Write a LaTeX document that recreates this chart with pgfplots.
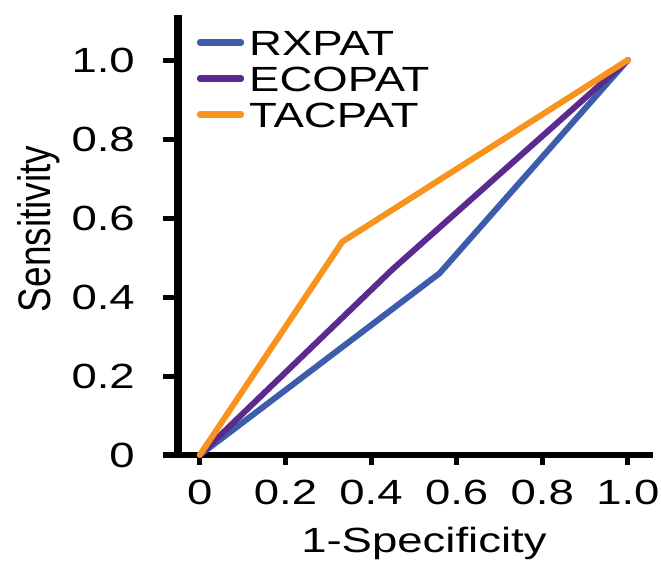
\documentclass[border=0pt]{standalone}
\usepackage{pgfplots}
\pgfplotsset{compat=1.18}
\usepackage{fontspec}
\setmainfont[FakeStretch=1.3]{Liberation Sans}
\newfontfamily\rotfont{Liberation Sans}
\definecolor{cRX}{RGB}{62,92,172}
\definecolor{cECO}{RGB}{92,42,142}
\definecolor{cTAC}{RGB}{248,148,30}
\newcommand{\bigf}{\fontsize{35}{38}\selectfont}
\begin{document}
\begin{tikzpicture}
\path[use as bounding box] (0,0) rectangle (661pt,560pt);
\begin{axis}[
  at={(178pt,105pt)}, anchor=south west,
  scale only axis, width=474.7pt, height=440pt,
  xmin=-0.051, xmax=1.058, ymin=0, ymax=1.114,
  axis x line*=bottom, axis y line*=left,
  x axis line style={line width=6.5pt, line cap=butt},
  y axis line style={line width=8pt, line cap=butt},
  xtick={0,0.2,0.4,0.6,0.8,1.0}, xticklabels={0,0.2,0.4,0.6,0.8,1.0},
  ytick={0,0.2,0.4,0.6,0.8,1.0}, yticklabels={0,0.2,0.4,0.6,0.8,1.0},
  tick align=outside, major tick length=12pt,
  xtick style={line width=5pt, black, /pgfplots/major tick length=10pt},
  ytick style={line width=5pt, black, /pgfplots/major tick length=15pt},
  /pgf/number format/assume math mode=true,
  xticklabel style={font=\bigf, inner sep=0pt, anchor=north, yshift=-13pt},
  yticklabel style={font=\bigf, inner sep=0pt, anchor=east, xshift=-31pt},
  xlabel={1-Specificity},
  xlabel style={font=\bigf, at={(axis description cs:0.518,-0.2227)}, anchor=base, inner sep=0pt},
  ylabel={\rotfont\fontsize{37}{40}\selectfont Sensitivity},
  ylabel style={at={(axis description cs:-0.2936,0.514)}, anchor=center, inner sep=0pt, yscale=1.23},
  clip=false,
  legend style={draw=none, fill=none, inner sep=0pt, at={(axis description cs:0.04,0.966)}, anchor=north west,
    row sep=11pt, font=\bigf, nodes={inner sep=0pt, text height=25pt, text depth=0pt},
    /tikz/every odd column/.append style={column sep=5pt}},
  legend cell align=left,
  legend image code/.code={\draw[#1, line width=6pt, line cap=round] (3pt,0pt) -- (39pt,0pt); \path (0pt,0pt) rectangle (41pt,0.5pt);},
]
\draw[line width=6.5pt, black] (axis cs:-0.086,0) -- (axis cs:-0.051,0);
\addplot[cRX, line width=6pt, line join=round, line cap=round] coordinates {(0,0) (0.56,0.46) (1,1)};
\addlegendentry{RXPAT}
\addplot[cECO, line width=6pt, line join=round, line cap=round] coordinates {(0,0) (0.45,0.47) (1,1)};
\addlegendentry{ECOPAT}
\addplot[cTAC, line width=6pt, line join=round, line cap=round] coordinates {(0,0) (0.333,0.54) (1,1)};
\addlegendentry{TACPAT}
\end{axis}
\end{tikzpicture}
\end{document}
